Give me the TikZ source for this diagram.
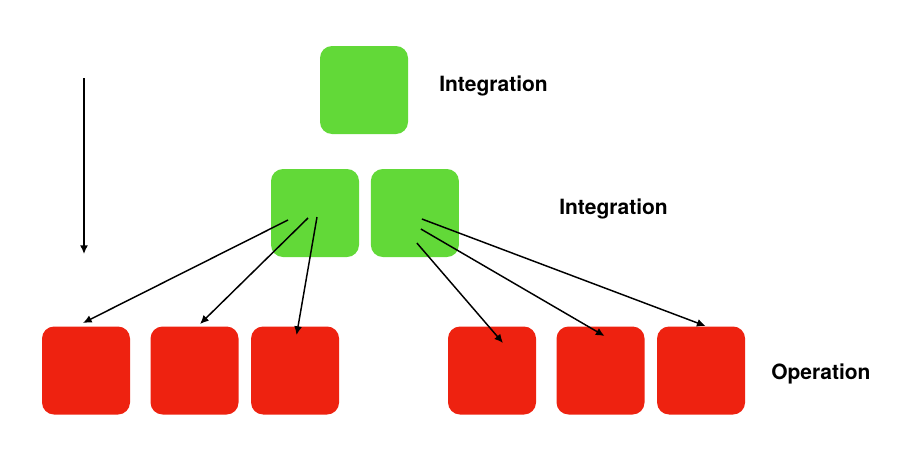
\documentclass[tikz,border=0pt]{standalone}
\usepackage{fontspec}
\setmainfont{TeX Gyre Heros}
\usepackage{tikz}
\usetikzlibrary{arrows.meta,positioning,calc}

\definecolor{intgreen}{RGB}{98,217,56}
\definecolor{opred}{RGB}{238,34,16}

\begin{document}
\begin{tikzpicture}[
  x=0.75pt, y=-0.75pt,
  gbox/.style={fill=intgreen, rounded corners=9pt, minimum size=66pt, inner sep=0pt},
  rbox/.style={fill=opred, rounded corners=9pt, minimum size=66pt, inner sep=0pt},
  arr/.style={-{Latex[length=6.5pt, width=6pt]}, line width=1.1pt},
  lbl/.style={anchor=base west, inner sep=0pt, font=\fontsize{15.75}{18}\selectfont\bfseries}
]
\useasboundingbox (0,0) rectangle (907,468);

% levels
\node[gbox] (top) at (364,90) {};
\node[gbox] (midl) at (315,213) {};
\node[gbox, right=8.5pt of midl] (midr) {};

\node[rbox] (op1) at (86,370.5) {};
\node[rbox, right=15pt of op1] (op2) {};
\node[rbox, right=9pt of op2] (op3) {};
\node[rbox] (op4) at (492,370.5) {};
\node[rbox, right=15pt of op4] (op5) {};
\node[rbox, right=9pt of op5] (op6) {};

\node[lbl] (lbltop) at (439,91) {Integration};
\node[lbl] (lblmid) at (559,214) {Integration};
\node[lbl] (lblop) at (771,379) {Operation};

% arrow ends
\coordinate (t0) at (84,78);
\coordinate (t1) at (84,254);
\coordinate (s1) at ($(midl.center)+(-27,7)$);
\coordinate (s2) at ($(midl.center)+(-7,5)$);
\coordinate (s3) at ($(midl.center)+(2,4)$);
\coordinate (s4) at ($(midr.center)+(2,30)$);
\coordinate (s5) at ($(midr.center)+(6,16)$);
\coordinate (s6) at ($(midr.center)+(7,6)$);
\coordinate (e1) at ($(op1.center)+(-3,-47.5)$);
\coordinate (e2) at ($(op2.center)+(5.5,-46.5)$);
\coordinate (e3) at ($(op3.center)+(1.5,-35.5)$);
\coordinate (e4) at ($(op4.center)+(11,-27.5)$);
\coordinate (e5) at ($(op5.center)+(4,-34.5)$);
\coordinate (e6) at ($(op6.center)+(4.5,-44.5)$);

\draw[arr] (t0) -- (t1);
\draw[arr] (s1) -- (e1);
\draw[arr] (s2) -- (e2);
\draw[arr] (s3) -- (e3);
\draw[arr] (s4) -- (e4);
\draw[arr] (s5) -- (e5);
\draw[arr] (s6) -- (e6);
\end{tikzpicture}
\end{document}
